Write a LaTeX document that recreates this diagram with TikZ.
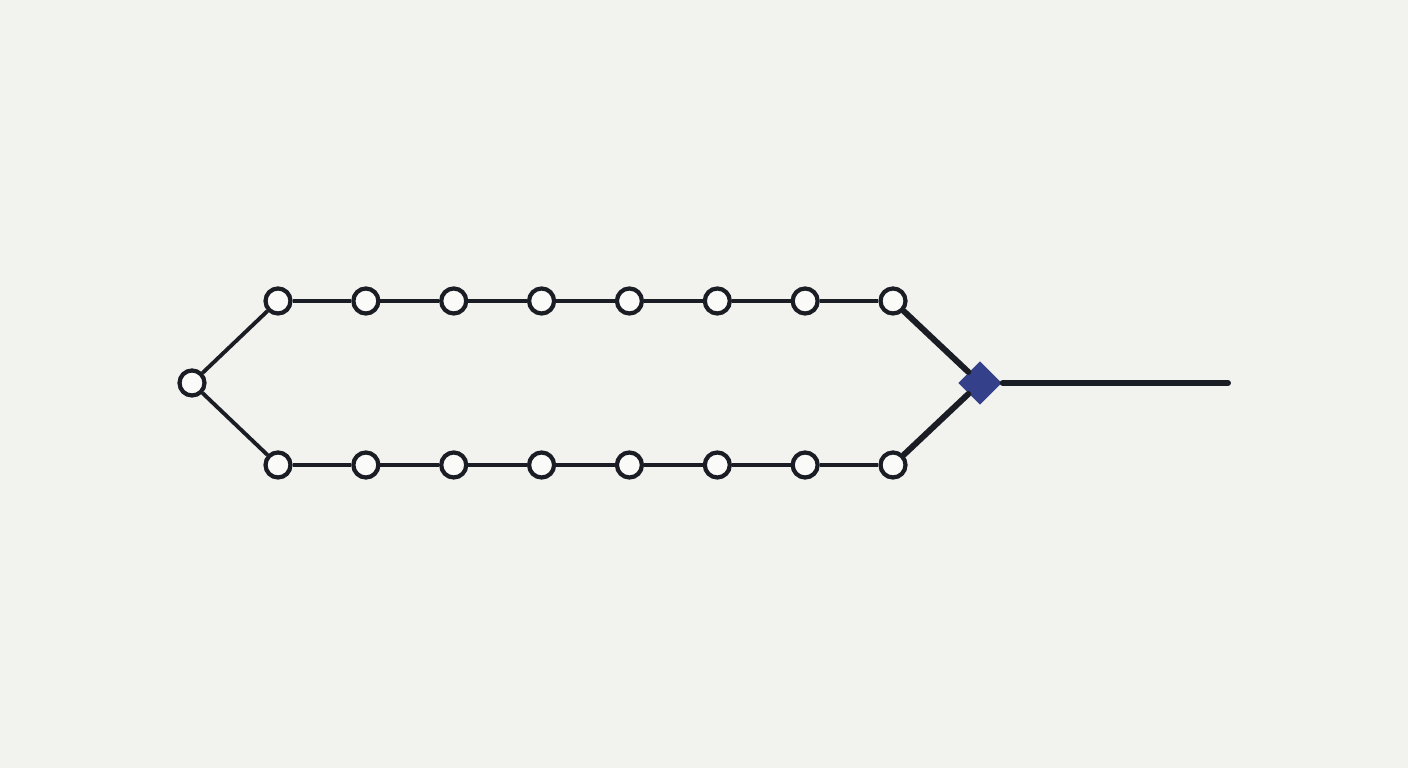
\documentclass[tikz,border=0pt]{standalone}
\usepackage{tikz}
\usetikzlibrary{positioning, shapes.geometric}
\definecolor{bgpaper}{HTML}{F2F2EE}
\definecolor{ink}{HTML}{1A1D24}
\definecolor{joinblue}{HTML}{34408A}

\begin{document}
\begin{tikzpicture}[
	tap/.style={circle, draw=ink, fill=bgpaper!40!white, line width=1.2pt, minimum size=0.25cm, inner sep=0pt},
	wire/.style={draw=ink, line width=1.1pt},
	heavywire/.style={draw=ink, line width=1.7pt, line cap=round},
	joint/.style={diamond, fill=joinblue, minimum width=0.44cm, minimum height=0.44cm, inner sep=0pt}]
	\fill[bgpaper] (0,0) rectangle (14.08,7.68);
	\useasboundingbox (0,0) rectangle (14.08,7.68);
	
	\node[tap] (s) at (1.92,3.85) {};
	\foreach \i in {1,...,8} {
		\node[tap] (t-\i) at ({2.78+0.8786*(\i-1)},4.67) {};
		\node[tap] (b-\i) at ({2.78+0.8786*(\i-1)},3.03) {};
	}
	\node[joint] (j) at (9.80,3.85) {};
	\coordinate (out) at (12.28,3.85);
	
	\draw[wire] (s) -- (t-1);
	\draw[wire] (s) -- (b-1);
	\foreach \i [evaluate=\i as \n using int(\i+1)] in {1,...,7} {
		\draw[wire] (t-\i) -- (t-\n);
		\draw[wire] (b-\i) -- (b-\n);
	}
	\draw[heavywire] (t-8) -- (j);
	\draw[heavywire] (b-8) -- (j);
	\draw[heavywire] (j) -- (out);
\end{tikzpicture}
\end{document}
